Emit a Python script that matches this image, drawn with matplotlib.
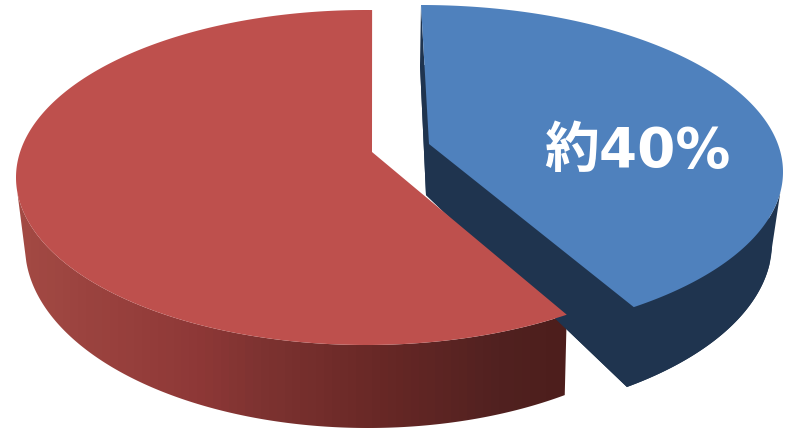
#!/usr/bin/env python3
# -*- coding: utf-8 -*-

import matplotlib
matplotlib.use('Agg')
import matplotlib.pyplot as plt
from matplotlib.colors import LinearSegmentedColormap
from matplotlib.patches import Polygon
import numpy as np

shares = [40, 60]
label_text = '\u7d0440%'

RED_TWIST_DEG = 1.0
# where the rim's outer silhouette leaves each top ellipse
BLUE_TANGENT_DEG = 97
RED_TANGENT_DEG = 265

RED_TOP = '#BE504D'
BLUE_TOP = '#4F81BD'
BLUE_SIDE = '#1F344F'

red_side_cmap = LinearSegmentedColormap.from_list(
    'red_side',
    [(0.0, '#A34A44'), (0.33, '#8E3837'), (0.44, '#7E3331'),
     (0.66, '#682826'), (0.88, '#512120'), (1.0, '#4D1E1C')])


def rim(start, stop, ellipse):
    # points on an ellipse, angles in degrees clockwise from the back of the pie
    cx, cy, rx, ry = ellipse
    theta = np.radians(np.linspace(start, stop, 300))
    return np.column_stack([cx + rx * np.sin(theta), cy - ry * np.cos(theta)])


fig = plt.figure(figsize=(7.85, 4.28), dpi=100)
ax = fig.add_axes([0, 0, 1, 1])

blue_sweep = 360.0 * shares[0] / sum(shares)
red_sweep = 360.0 * shares[1] / sum(shares)

# exploded blue slice: rim, inner faces, then the top
blue_apex_top = (429, 144)
blue_apex_bottom = (426, 195)
blue_top_ellipse = (421, 172, 362, 167)
blue_bottom_ellipse = (420, 243, 352, 178)
top_rim = rim(0, blue_sweep, blue_top_ellipse)
bottom_rim = rim(0, blue_sweep, blue_bottom_ellipse)
outer_top = rim(BLUE_TANGENT_DEG, blue_sweep, blue_top_ellipse)
outer_bottom = rim(BLUE_TANGENT_DEG, blue_sweep, blue_bottom_ellipse)
ax.add_patch(Polygon(np.vstack([outer_top, outer_bottom[::-1]]), closed=True, fc=BLUE_SIDE, ec='none'))
ax.add_patch(Polygon(np.vstack([bottom_rim, [blue_apex_bottom]]), closed=True, fc=BLUE_SIDE, ec='none'))
for end in (0, -1):
    ax.add_patch(Polygon([blue_apex_top, top_rim[end], bottom_rim[end], blue_apex_bottom],
                         closed=True, fc=BLUE_SIDE, ec='none'))
ax.add_patch(Polygon(np.vstack([top_rim, [blue_apex_top]]), closed=True, fc=BLUE_TOP, ec='none'))

# larger red slice, its rim shaded in bands from left to right
red_apex_top = (372, 152)
red_top_ellipse = (366, 177.5, 350, 167.5)
red_bottom_ellipse = (368, 246, 343, 182)
red_start = blue_sweep + RED_TWIST_DEG
red_stop = red_start + red_sweep
top_rim = rim(red_start, red_stop, red_top_ellipse)
front_top = rim(red_start, RED_TANGENT_DEG, red_top_ellipse)
front_bottom = rim(red_start, RED_TANGENT_DEG, red_bottom_ellipse)
side = Polygon(np.vstack([front_top, front_bottom[::-1]]), closed=True, fc='none', ec='none')
ax.add_patch(side)
bands = ax.imshow(np.linspace(0, 1, 70).reshape(1, -1), cmap=red_side_cmap, aspect='auto',
                  extent=(15, 570, 428, 0), interpolation='nearest')
bands.set_clip_path(side)
ax.add_patch(Polygon(np.vstack([top_rim, [red_apex_top]]), closed=True, fc=RED_TOP, ec='none'))

ax.text(637, 152.5, label_text, color='white', fontsize=39.5, fontweight='bold',
        family=['DejaVu Sans', 'Noto Sans CJK JP'], ha='center', va='center')

ax.set_xlim(0, 785)
ax.set_ylim(428, 0)
ax.axis('off')

fig.savefig('out.png', dpi=100, facecolor='white')
plt.close(fig)
